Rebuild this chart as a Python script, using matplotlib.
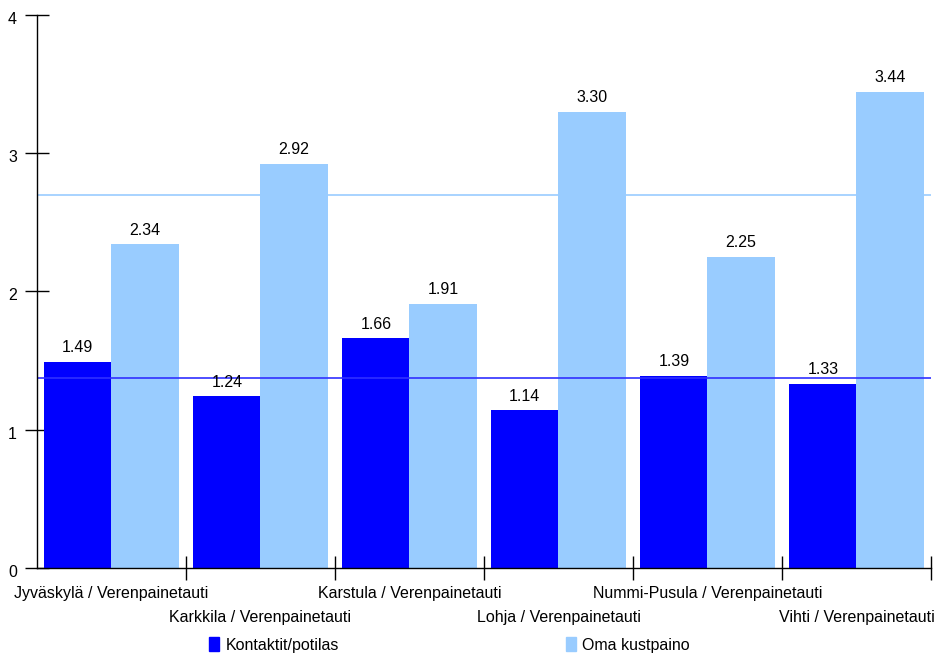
import matplotlib
matplotlib.use("Agg")
import matplotlib.pyplot as plt
from matplotlib.patches import Rectangle
from matplotlib.transforms import ScaledTranslation
import numpy as np

plt.rcParams['font.family'] = ['Liberation Sans', 'DejaVu Sans']

categories = [
    "Jyväskylä / Verenpainetauti",
    "Karkkila / Verenpainetauti",
    "Karstula / Verenpainetauti",
    "Lohja / Verenpainetauti",
    "Nummi-Pusula / Verenpainetauti",
    "Vihti / Verenpainetauti",
]
kontaktit = [1.49, 1.24, 1.66, 1.14, 1.39, 1.33]
oma_kustpaino = [2.34, 2.92, 1.91, 3.30, 2.25, 3.44]
series_names = ["Kontaktit/potilas", "Oma kustpaino"]
y_ticks = [0, 1, 2, 3, 4]

DARK = "#0000FF"
LIGHT = "#99CCFF"
FS = 11.5
W, H = 937, 658

fig = plt.figure(figsize=(W / 100, H / 100), dpi=100)
ax = fig.add_axes([37 / W, 1 - 568 / H, (931 - 37) / W, (568 - 14.7) / H])

x = np.arange(len(categories))
bw = 0.452
b1 = ax.bar(x - bw / 2, kontaktit, width=bw, color=DARK, zorder=2)
b2 = ax.bar(x + bw / 2, oma_kustpaino, width=bw, color=LIGHT, zorder=2)

# average reference lines across all groups
ax.axhline(np.mean(oma_kustpaino), color=LIGHT, lw=1.2, zorder=3)
ax.axhline(np.mean(kontaktit), color="#3030FF", lw=1.2, zorder=3)

for bars, vals in ((b1, kontaktit), (b2, oma_kustpaino)):
    for rect, v in zip(bars, vals):
        ax.annotate(f"{v:.2f}", (rect.get_x() + rect.get_width() / 2, v),
                    xytext=(0, 7), textcoords="offset points",
                    ha="center", va="baseline", fontsize=FS, zorder=4)

ax.set_xlim(-0.5, len(categories) - 0.5)
ax.set_ylim(0, 4)
ax.set_yticks(y_ticks)
ax.set_yticklabels([str(t) for t in y_ticks], fontsize=FS)

ax.set_xticks(x)
ax.set_xticklabels(categories, fontsize=FS)
ax.set_xticks(np.arange(len(categories)) + 0.5, minor=True)

tick_len = 24 * 0.72
xpad = 13
ax.tick_params(axis="y", direction="inout", length=tick_len, width=1, pad=5.8)
ax.tick_params(axis="x", which="major", length=0, pad=xpad)
ax.tick_params(axis="x", which="minor", direction="inout", length=tick_len, width=1)
for i, tick in enumerate(ax.xaxis.get_major_ticks()):
    if i % 2 == 1:
        tick.set_pad(xpad + 24 * 0.72)

# nudge y tick labels slightly below their ticks
shift = ScaledTranslation(0, -3 / 100, fig.dpi_scale_trans)
for lbl in ax.get_yticklabels():
    lbl.set_transform(lbl.get_transform() + shift)

for side in ("top", "right"):
    ax.spines[side].set_visible(False)
for side in ("left", "bottom"):
    ax.spines[side].set_linewidth(1)
    ax.spines[side].set_zorder(5)

# legend along the bottom edge
legend_items = [(209, 226, DARK, series_names[0]), (566, 582, LIGHT, series_names[1])]
for sx, tx, col, name in legend_items:
    fig.patches.append(Rectangle((sx / W, 1 - 651 / H), 10 / W, 14 / H,
                                 transform=fig.transFigure, color=col))
    fig.text(tx / W, 1 - 650 / H, name, fontsize=FS, ha="left", va="baseline")

fig.savefig("out.png", dpi=100)
